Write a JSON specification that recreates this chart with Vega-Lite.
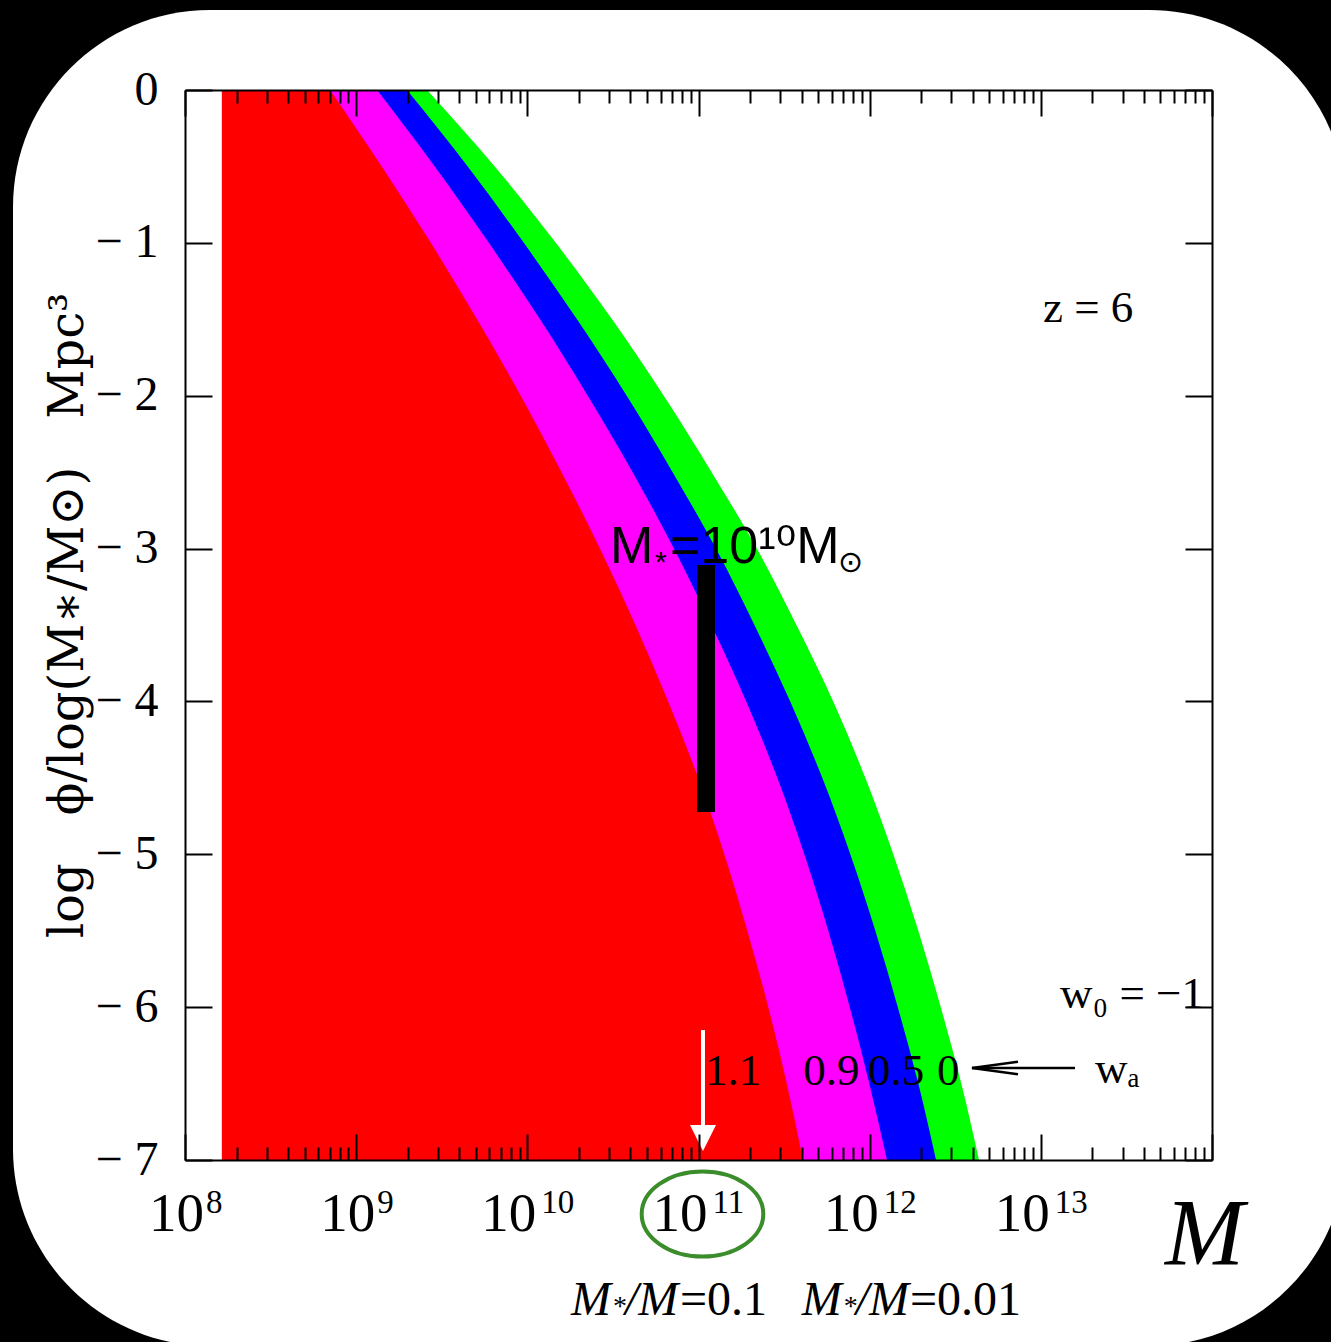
{
  "$schema": "https://vega.github.io/schema/vega-lite/v6.json",
  "width": 1027,
  "height": 1070,
  "autosize": {"type": "none"},
  "padding": {"left": 185, "top": 90, "right": 119, "bottom": 182},
  "background": "black",
  "config": {"view": {"stroke": null}},
  "datasets": {
    "frame": [{"M": 9.89e6, "M2": 6.07e14, "phi": 0.523, "phi2": -8.217}],
    "bands": [
      {"band": "green", "phi": 0, "M": 2.594e9}, {"band": "green", "phi": -0.5, "M": 6.447e9}, {"band": "green", "phi": -1, "M": 1.466e10}, {"band": "green", "phi": -1.5, "M": 3.125e10}, {"band": "green", "phi": -2, "M": 6.265e10}, {"band": "green", "phi": -2.5, "M": 1.193e11}, {"band": "green", "phi": -3, "M": 2.193e11}, {"band": "green", "phi": -3.5, "M": 3.733e11}, {"band": "green", "phi": -4, "M": 6.123e11}, {"band": "green", "phi": -4.5, "M": 9.428e11}, {"band": "green", "phi": -5, "M": 1.374e12}, {"band": "green", "phi": -5.5, "M": 1.924e12}, {"band": "green", "phi": -6, "M": 2.603e12}, {"band": "green", "phi": -6.5, "M": 3.43e12}, {"band": "green", "phi": -7, "M": 4.351e12},
      {"band": "blue", "phi": 0, "M": 1.982e9}, {"band": "blue", "phi": -0.5, "M": 4.484e9}, {"band": "blue", "phi": -1, "M": 9.535e9}, {"band": "blue", "phi": -1.5, "M": 1.95e10}, {"band": "blue", "phi": -2, "M": 3.807e10}, {"band": "blue", "phi": -2.5, "M": 7.06e10}, {"band": "blue", "phi": -3, "M": 1.264e11}, {"band": "blue", "phi": -3.5, "M": 2.122e11}, {"band": "blue", "phi": -4, "M": 3.434e11}, {"band": "blue", "phi": -4.5, "M": 5.285e11}, {"band": "blue", "phi": -5, "M": 7.706e11}, {"band": "blue", "phi": -5.5, "M": 1.079e12}, {"band": "blue", "phi": -6, "M": 1.46e12}, {"band": "blue", "phi": -6.5, "M": 1.924e12}, {"band": "blue", "phi": -7, "M": 2.441e12},
      {"band": "magenta", "phi": 0, "M": 1.324e9}, {"band": "magenta", "phi": -0.5, "M": 2.877e9}, {"band": "magenta", "phi": -1, "M": 5.956e9}, {"band": "magenta", "phi": -1.5, "M": 1.186e10}, {"band": "magenta", "phi": -2, "M": 2.253e10}, {"band": "magenta", "phi": -2.5, "M": 4.121e10}, {"band": "magenta", "phi": -3, "M": 7.18e10}, {"band": "magenta", "phi": -3.5, "M": 1.189e11}, {"band": "magenta", "phi": -4, "M": 1.9e11}, {"band": "magenta", "phi": -4.5, "M": 2.886e11}, {"band": "magenta", "phi": -5, "M": 4.15e11}, {"band": "magenta", "phi": -5.5, "M": 5.732e11}, {"band": "magenta", "phi": -6, "M": 7.655e11}, {"band": "magenta", "phi": -6.5, "M": 9.95e11}, {"band": "magenta", "phi": -7, "M": 1.262e12},
      {"band": "red", "phi": 0, "M": 7.03e8}, {"band": "red", "phi": -0.5, "M": 1.41e9}, {"band": "red", "phi": -1, "M": 2.729e9}, {"band": "red", "phi": -1.5, "M": 5.08e9}, {"band": "red", "phi": -2, "M": 9.15e9}, {"band": "red", "phi": -2.5, "M": 1.585e10}, {"band": "red", "phi": -3, "M": 2.655e10}, {"band": "red", "phi": -3.5, "M": 4.28e10}, {"band": "red", "phi": -4, "M": 6.65e10}, {"band": "red", "phi": -4.5, "M": 9.97e10}, {"band": "red", "phi": -5, "M": 1.415e11}, {"band": "red", "phi": -5.5, "M": 1.928e11}, {"band": "red", "phi": -6, "M": 2.557e11}, {"band": "red", "phi": -6.5, "M": 3.28e11}, {"band": "red", "phi": -7, "M": 4.076e11}
    ],
    "bar": [{"M": 1.106e11, "phi": -3.107, "phi2": -4.723}],
    "exponents1": [
      {"label": "8", "M": 1e8, "phi": -7.347},
      {"label": "9", "M": 1e9, "phi": -7.347}
    ],
    "exponents2": [
      {"label": "10", "M": 1e10, "phi": -7.347},
      {"label": "11", "M": 1e11, "phi": -7.347},
      {"label": "12", "M": 1e12, "phi": -7.347},
      {"label": "13", "M": 1e13, "phi": -7.347}
    ],
    "serifText": [
      {"label": "z = 6", "M": 1.029e13, "phi": -1.518},
      {"label": "1.1", "M": 1.092e11, "phi": -6.509},
      {"label": "0.9", "M": 4.093e11, "phi": -6.509},
      {"label": "0.5", "M": 9.77e11, "phi": -6.509},
      {"label": "0", "M": 2.472e12, "phi": -6.509},
      {"label": "w₀ = −1", "M": 1.294e13, "phi": -6.006},
      {"label": "wₐ", "M": 2.073e13, "phi": -6.496}
    ],
    "sansText": [
      {"label": "M", "M": 3.04e10, "phi": -3.094},
      {"label": "=10¹⁰M", "M": 6.815e10, "phi": -3.094}
    ],
    "sansSmall": [
      {"label": "*", "M": 5.57e10, "phi": -3.153},
      {"label": "⊙", "M": 6.531e11, "phi": -3.153}
    ],
    "italicText": [
      {"label": "M", "M": 1.799e10, "phi": -8.014},
      {"label": "/M", "M": 3.721e10, "phi": -8.014},
      {"label": "M", "M": 4.01e11, "phi": -8.014},
      {"label": "/M", "M": 8.286e11, "phi": -8.014}
    ],
    "smallStar": [
      {"label": "*", "M": 3.165e10, "phi": -8.014},
      {"label": "*", "M": 7.053e11, "phi": -8.014}
    ],
    "uprightText": [
      {"label": "=0.1", "M": 7.8e10, "phi": -8.014},
      {"label": "=0.01", "M": 1.72e12, "phi": -8.014}
    ],
    "bigM": [{"label": "M", "M": 5.31e13, "phi": -7.687}],
    "whiteShaft": [{"M": 1.062e11, "phi": -6.15, "phi2": -6.791}],
    "whiteHead": [{"M": 1.062e11, "phi": -6.856}],
    "blackShaft": [{"M": 3.96e12, "M2": 1.583e13, "phi": -6.398}],
    "blackHead": [{"M": 5.4e12, "phi": -6.398}],
    "ellipse": [{"M": 1.055e11, "phi": -7.353}]
  },
  "resolve": {"axis": {"x": "independent", "y": "independent"}},
  "layer": [
    {
      "data": {"name": "frame"},
      "mark": {"type": "rect", "fill": "white", "cornerRadius": 197},
      "encoding": {
        "x": {"field": "M", "type": "quantitative", "scale": {"type": "log", "domain": [1e8, 1e14], "nice": false}, "axis": null},
        "x2": {"field": "M2"},
        "y": {"field": "phi", "type": "quantitative", "scale": {"domain": [-7, 0], "nice": false, "zero": false}, "axis": null},
        "y2": {"field": "phi2"}
      }
    },
    {
      "data": {"name": "bands"},
      "transform": [{"filter": "datum.band == 'green'"}],
      "mark": {"type": "area", "orient": "horizontal", "color": "#00ff00", "interpolate": "monotone"},
      "encoding": {
        "x": {"field": "M", "type": "quantitative", "stack": null, "scale": {"type": "log", "domain": [1e8, 1e14], "nice": false},
          "axis": {"orient": "top", "values": [1e8,2e8,3e8,4e8,5e8,6e8,7e8,8e8,9e8,1e9,2e9,3e9,4e9,5e9,6e9,7e9,8e9,9e9,1e10,2e10,3e10,4e10,5e10,6e10,7e10,8e10,9e10,1e11,2e11,3e11,4e11,5e11,6e11,7e11,8e11,9e11,1e12,2e12,3e12,4e12,5e12,6e12,7e12,8e12,9e12,1e13,2e13,3e13,4e13,5e13,6e13,7e13,8e13,9e13,1e14],
            "labels": false, "title": null, "grid": false, "tickSize": -26, "tickWidth": 2, "tickColor": "black",
            "tickDash": {"condition": {"test": "indexof([1e8,1e9,1e10,1e11,1e12,1e13,1e14], datum.value) < 0", "value": [13, 60]}, "value": []},
            "domainColor": "black", "domainWidth": 2, "zindex": 1}},
        "x2": {"datum": 1.644e8},
        "y": {"field": "phi", "type": "quantitative", "scale": {"domain": [-7, 0], "nice": false, "zero": false},
          "axis": {"orient": "right", "values": [-7,-6,-5,-4,-3,-2,-1,0], "labels": false, "title": null, "grid": false, "tickSize": -27, "tickWidth": 2, "tickColor": "black", "domainColor": "black", "domainWidth": 2, "zindex": 1}}
      }
    },
    {
      "data": {"name": "bands"},
      "transform": [{"filter": "datum.band == 'blue'"}],
      "mark": {"type": "area", "orient": "horizontal", "color": "#0000ff", "interpolate": "monotone"},
      "encoding": {
        "x": {"field": "M", "type": "quantitative", "stack": null, "scale": {"type": "log", "domain": [1e8, 1e14], "nice": false}, "axis": null},
        "x2": {"datum": 1.644e8},
        "y": {"field": "phi", "type": "quantitative", "scale": {"domain": [-7, 0], "nice": false, "zero": false}, "axis": null}
      }
    },
    {
      "data": {"name": "bands"},
      "transform": [{"filter": "datum.band == 'magenta'"}],
      "mark": {"type": "area", "orient": "horizontal", "color": "#ff00ff", "interpolate": "monotone"},
      "encoding": {
        "x": {"field": "M", "type": "quantitative", "stack": null, "scale": {"type": "log", "domain": [1e8, 1e14], "nice": false}, "axis": null},
        "x2": {"datum": 1.644e8},
        "y": {"field": "phi", "type": "quantitative", "scale": {"domain": [-7, 0], "nice": false, "zero": false}, "axis": null}
      }
    },
    {
      "data": {"name": "bands"},
      "transform": [{"filter": "datum.band == 'red'"}],
      "mark": {"type": "area", "orient": "horizontal", "color": "#ff0000", "interpolate": "monotone"},
      "encoding": {
        "x": {"field": "M", "type": "quantitative", "stack": null, "scale": {"type": "log", "domain": [1e8, 1e14], "nice": false},
          "axis": {"orient": "bottom", "values": [1e8,2e8,3e8,4e8,5e8,6e8,7e8,8e8,9e8,1e9,2e9,3e9,4e9,5e9,6e9,7e9,8e9,9e9,1e10,2e10,3e10,4e10,5e10,6e10,7e10,8e10,9e10,1e11,2e11,3e11,4e11,5e11,6e11,7e11,8e11,9e11,1e12,2e12,3e12,4e12,5e12,6e12,7e12,8e12,9e12,1e13,2e13,3e13,4e13,5e13,6e13,7e13,8e13,9e13,1e14],
            "labelExpr": "indexof([1e8,1e9,1e10,1e11,1e12,1e13], datum.value) >= 0 ? '10' : ''",
            "labelFont": "Liberation Serif", "labelFontSize": 55, "labelColor": "black", "labelBaseline": "alphabetic", "labelPadding": 96,
            "labelOffset": {"condition": {"test": "datum.value < 5e9", "value": -9}, "value": -19},
            "labelFlush": false, "labelOverlap": false, "labelBound": false,
            "title": null, "grid": false, "tickSize": -26, "tickWidth": 2, "tickColor": "black",
            "tickDash": {"condition": {"test": "indexof([1e8,1e9,1e10,1e11,1e12,1e13,1e14], datum.value) < 0", "value": [13, 60]}, "value": []},
            "domainColor": "black", "domainWidth": 2, "zindex": 1}},
        "x2": {"datum": 1.644e8},
        "y": {"field": "phi", "type": "quantitative", "scale": {"domain": [-7, 0], "nice": false, "zero": false},
          "axis": {"orient": "left", "values": [-7,-6,-5,-4,-3,-2,-1,0],
            "labelExpr": "datum.value == 0 ? '0' : '− ' + abs(datum.value)",
            "labelFont": "Liberation Serif", "labelFontSize": 48, "labelColor": "black", "labelPadding": 54,
            "labelFlush": false, "labelOverlap": false, "labelBound": false,
            "title": "log\u2003ϕ/log(M∗/M⊙)\u2003Mpc³", "titleFont": "DejaVu Serif", "titleFontSize": 48, "titleFontWeight": "normal", "titleColor": "black",
            "titleAngle": -90, "titleX": -103, "titleY": 525, "titleAlign": "center", "titleBaseline": "alphabetic",
            "grid": false, "tickSize": -27, "tickWidth": 2, "tickColor": "black", "domainColor": "black", "domainWidth": 2, "zindex": 1}}
      }
    },
    {
      "data": {"name": "exponents1"},
      "mark": {"type": "text", "font": "Liberation Serif", "fontSize": 33, "align": "left", "baseline": "alphabetic", "dx": 21, "color": "black"},
      "encoding": {
        "x": {"field": "M", "type": "quantitative", "scale": {"type": "log", "domain": [1e8, 1e14], "nice": false}, "axis": null},
        "y": {"field": "phi", "type": "quantitative", "scale": {"domain": [-7, 0], "nice": false, "zero": false}, "axis": null},
        "text": {"field": "label"}
      }
    },
    {
      "data": {"name": "exponents2"},
      "mark": {"type": "text", "font": "Liberation Serif", "fontSize": 33, "align": "left", "baseline": "alphabetic", "dx": 14, "color": "black"},
      "encoding": {
        "x": {"field": "M", "type": "quantitative", "scale": {"type": "log", "domain": [1e8, 1e14], "nice": false}, "axis": null},
        "y": {"field": "phi", "type": "quantitative", "scale": {"domain": [-7, 0], "nice": false, "zero": false}, "axis": null},
        "text": {"field": "label"}
      }
    },
    {
      "data": {"name": "bar"},
      "mark": {"type": "rule", "color": "black", "strokeWidth": 18, "strokeCap": "butt"},
      "encoding": {
        "x": {"field": "M", "type": "quantitative", "scale": {"type": "log", "domain": [1e8, 1e14], "nice": false}, "axis": null},
        "y": {"field": "phi", "type": "quantitative", "scale": {"domain": [-7, 0], "nice": false, "zero": false}, "axis": null},
        "y2": {"field": "phi2"}
      }
    },
    {
      "data": {"name": "serifText"},
      "mark": {"type": "text", "font": "Liberation Serif, DejaVu Serif", "fontSize": 45, "align": "left", "baseline": "alphabetic", "color": "black"},
      "encoding": {
        "x": {"field": "M", "type": "quantitative", "scale": {"type": "log", "domain": [1e8, 1e14], "nice": false}, "axis": null},
        "y": {"field": "phi", "type": "quantitative", "scale": {"domain": [-7, 0], "nice": false, "zero": false}, "axis": null},
        "text": {"field": "label"}
      }
    },
    {
      "data": {"name": "sansText"},
      "mark": {"type": "text", "font": "Liberation Sans, DejaVu Sans", "fontSize": 52, "align": "left", "baseline": "alphabetic", "color": "black"},
      "encoding": {
        "x": {"field": "M", "type": "quantitative", "scale": {"type": "log", "domain": [1e8, 1e14], "nice": false}, "axis": null},
        "y": {"field": "phi", "type": "quantitative", "scale": {"domain": [-7, 0], "nice": false, "zero": false}, "axis": null},
        "text": {"field": "label"}
      }
    },
    {
      "data": {"name": "sansSmall"},
      "mark": {"type": "text", "font": "Liberation Sans, DejaVu Sans", "fontSize": 30, "align": "left", "baseline": "alphabetic", "color": "black"},
      "encoding": {
        "x": {"field": "M", "type": "quantitative", "scale": {"type": "log", "domain": [1e8, 1e14], "nice": false}, "axis": null},
        "y": {"field": "phi", "type": "quantitative", "scale": {"domain": [-7, 0], "nice": false, "zero": false}, "axis": null},
        "text": {"field": "label"}
      }
    },
    {
      "data": {"name": "italicText"},
      "mark": {"type": "text", "font": "Liberation Serif", "fontStyle": "italic", "fontSize": 48, "align": "left", "baseline": "alphabetic", "color": "black"},
      "encoding": {
        "x": {"field": "M", "type": "quantitative", "scale": {"type": "log", "domain": [1e8, 1e14], "nice": false}, "axis": null},
        "y": {"field": "phi", "type": "quantitative", "scale": {"domain": [-7, 0], "nice": false, "zero": false}, "axis": null},
        "text": {"field": "label"}
      }
    },
    {
      "data": {"name": "smallStar"},
      "mark": {"type": "text", "font": "Liberation Serif", "fontSize": 28, "align": "left", "baseline": "alphabetic", "color": "black"},
      "encoding": {
        "x": {"field": "M", "type": "quantitative", "scale": {"type": "log", "domain": [1e8, 1e14], "nice": false}, "axis": null},
        "y": {"field": "phi", "type": "quantitative", "scale": {"domain": [-7, 0], "nice": false, "zero": false}, "axis": null},
        "text": {"field": "label"}
      }
    },
    {
      "data": {"name": "uprightText"},
      "mark": {"type": "text", "font": "Liberation Serif", "fontSize": 48, "align": "left", "baseline": "alphabetic", "color": "black"},
      "encoding": {
        "x": {"field": "M", "type": "quantitative", "scale": {"type": "log", "domain": [1e8, 1e14], "nice": false}, "axis": null},
        "y": {"field": "phi", "type": "quantitative", "scale": {"domain": [-7, 0], "nice": false, "zero": false}, "axis": null},
        "text": {"field": "label"}
      }
    },
    {
      "data": {"name": "bigM"},
      "mark": {"type": "text", "font": "Liberation Serif", "fontStyle": "italic", "fontSize": 95, "align": "left", "baseline": "alphabetic", "color": "black"},
      "encoding": {
        "x": {"field": "M", "type": "quantitative", "scale": {"type": "log", "domain": [1e8, 1e14], "nice": false}, "axis": null},
        "y": {"field": "phi", "type": "quantitative", "scale": {"domain": [-7, 0], "nice": false, "zero": false}, "axis": null},
        "text": {"field": "label"}
      }
    },
    {
      "data": {"name": "whiteShaft"},
      "mark": {"type": "rule", "color": "white", "strokeWidth": 4},
      "encoding": {
        "x": {"field": "M", "type": "quantitative", "scale": {"type": "log", "domain": [1e8, 1e14], "nice": false}, "axis": null},
        "y": {"field": "phi", "type": "quantitative", "scale": {"domain": [-7, 0], "nice": false, "zero": false}, "axis": null},
        "y2": {"field": "phi2"}
      }
    },
    {
      "data": {"name": "whiteHead"},
      "mark": {"type": "point", "shape": "M -1 -1 L 1 -1 L 0 1 Z", "size": 676, "filled": true, "fill": "white", "stroke": null, "opacity": 1},
      "encoding": {
        "x": {"field": "M", "type": "quantitative", "scale": {"type": "log", "domain": [1e8, 1e14], "nice": false}, "axis": null},
        "y": {"field": "phi", "type": "quantitative", "scale": {"domain": [-7, 0], "nice": false, "zero": false}, "axis": null}
      }
    },
    {
      "data": {"name": "blackShaft"},
      "mark": {"type": "rule", "color": "black", "strokeWidth": 2.5},
      "encoding": {
        "x": {"field": "M", "type": "quantitative", "scale": {"type": "log", "domain": [1e8, 1e14], "nice": false}, "axis": null},
        "x2": {"field": "M2"},
        "y": {"field": "phi", "type": "quantitative", "scale": {"domain": [-7, 0], "nice": false, "zero": false}, "axis": null}
      }
    },
    {
      "data": {"name": "blackHead"},
      "mark": {"type": "point", "shape": "M 1 -0.27 L -1 0 L 1 0.27", "size": 2116, "filled": false, "stroke": "black", "strokeWidth": 2.5, "opacity": 1},
      "encoding": {
        "x": {"field": "M", "type": "quantitative", "scale": {"type": "log", "domain": [1e8, 1e14], "nice": false}, "axis": null},
        "y": {"field": "phi", "type": "quantitative", "scale": {"domain": [-7, 0], "nice": false, "zero": false}, "axis": null}
      }
    },
    {
      "data": {"name": "ellipse"},
      "mark": {"type": "point", "shape": "M -1 0 A 1 0.7 0 1 0 1 0 A 1 0.7 0 1 0 -1 0 Z", "size": 14786, "filled": false, "stroke": "#3b8c2a", "strokeWidth": 4, "opacity": 1},
      "encoding": {
        "x": {"field": "M", "type": "quantitative", "scale": {"type": "log", "domain": [1e8, 1e14], "nice": false}, "axis": null},
        "y": {"field": "phi", "type": "quantitative", "scale": {"domain": [-7, 0], "nice": false, "zero": false}, "axis": null}
      }
    }
  ]
}
